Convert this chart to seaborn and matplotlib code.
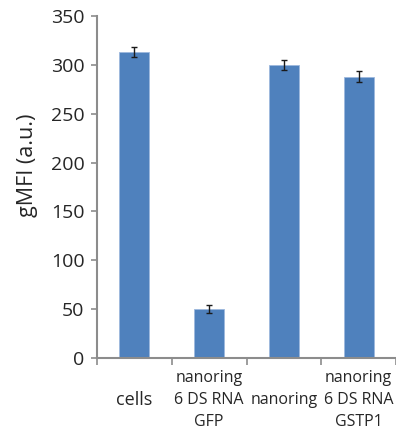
import matplotlib
matplotlib.use("Agg")
import matplotlib.pyplot as plt
import seaborn as sns
import pandas as pd
import numpy as np

categories = ["cells", "nanoring\n6 DS RNA\nGFP", "nanoring", "nanoring\n6 DS RNA\nGSTP1"]
values = [313, 50, 300, 288]
errors = [5, 4, 5, 6]
yticks = [0, 50, 100, 150, 200, 250, 300, 350]

sns.set_theme(style="white")
plt.rcParams['font.family'] = ['Open Sans', 'DejaVu Sans']

df = pd.DataFrame({"cat": categories, "val": values})

fig = plt.figure(figsize=(3.96, 4.29), dpi=100)
ax = fig.add_axes([0.245, 0.165, 0.755, 0.798])
sns.barplot(data=df, x="cat", y="val", color="#4F81BD", width=0.4, ax=ax,
            edgecolor="#9DB8DE", linewidth=0.6, saturation=1, errorbar=None)
ax.errorbar(np.arange(len(values)), values, yerr=errors, fmt="none",
            ecolor="#1a1a1a", elinewidth=1.0, capsize=2.5, capthick=1.0)

ax.set_xlim(-0.5, len(values) - 0.5)
ax.set_ylim(0, 350)
ax.set_yticks(yticks)
ax.set_yticklabels([str(t) for t in yticks], fontsize=14)
ax.set_ylabel("gMFI (a.u.)", fontsize=15.5)
ax.yaxis.set_label_coords(-0.197, 0.564)
ax.set_xlabel("")

# category boundary ticks
ax.set_xticks(np.arange(len(values) + 1) - 0.5)
ax.set_xticklabels([])
ax.set_xticks(np.arange(len(values)), minor=True)
ax.set_xticklabels(categories, minor=True, fontsize=11.5, linespacing=1.5, va="center")
ax.tick_params(axis="x", which="major", length=5, width=1.2, color="#8c8c8c", direction="out", bottom=True)
ax.tick_params(axis="x", which="minor", length=0, pad=30)
ax.tick_params(axis="y", length=4, width=1.2, color="#8c8c8c", direction="out", left=True, pad=5)

for lab in ax.get_xticklabels(minor=True):
    if lab.get_text() == "cells":
        lab.set_fontsize(13)

for s in ["top", "right"]:
    ax.spines[s].set_visible(False)
for s in ["left", "bottom"]:
    ax.spines[s].set_color("#8c8c8c")
    ax.spines[s].set_linewidth(1.5)

fig.savefig("out.png", dpi=100)
